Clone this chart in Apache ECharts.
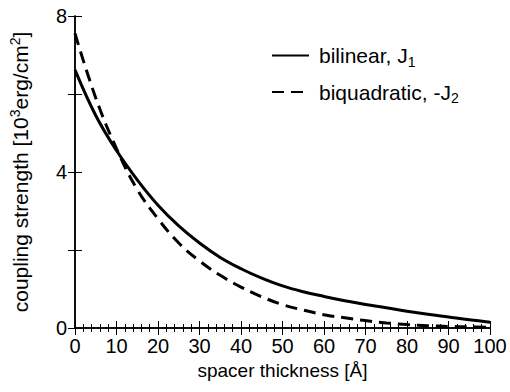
<!DOCTYPE html>
<html>
<head>
<meta charset="utf-8">
<script src="https://cdn.jsdelivr.net/npm/echarts@6/dist/echarts.min.js"></script>
<style>
  html, body { margin: 0; padding: 0; background: #fff; }
  #chart { width: 510px; height: 392px; }
</style>
</head>
<body>
<div id="chart"></div>
<script>
const thickness = [0, 5, 10, 15, 20, 25, 30, 35, 40, 45, 50, 55, 60, 65, 70, 75, 80, 85, 90, 95, 100]
const bilinear = [6.62, 5.45, 4.55, 3.8, 3.15, 2.62, 2.18, 1.81, 1.52, 1.28, 1.08, 0.93, 0.81, 0.7, 0.6, 0.52, 0.43, 0.35, 0.28, 0.21, 0.15]
const biquadratic = [7.55, 5.9, 4.6, 3.55, 2.8, 2.18, 1.72, 1.35, 1.05, 0.8, 0.6, 0.46, 0.34, 0.26, 0.19, 0.13, 0.09, 0.06, 0.04, 0.03, 0.02]
const yLabels = [0, 4, 8]

const font = "'Liberation Sans', Arial, sans-serif"

const pairs = (xs, ys) => xs.map((x, i) => [x, ys[i]])

const chart = echarts.init(document.getElementById('chart'), null, { renderer: 'svg' })

const tickCommon = {
  axisLine: { show: true, lineStyle: { color: '#000', width: 1.5 } },
  splitLine: { show: false }
}

chart.setOption({
  animation: false,
  textStyle: { fontFamily: font, color: '#000' },
  grid: { left: 74, right: 20, top: 16, bottom: 64 },
  legend: {
    orient: 'vertical',
    left: 266,
    top: 40,
    itemWidth: 37,
    itemHeight: 14,
    itemGap: 13,
    itemStyle: { opacity: 0 },
    textStyle: {
      fontFamily: font,
      fontSize: 21,
      color: '#000',
      rich: {
        p: { width: 5 },
        n: { fontFamily: font, fontSize: 21, color: '#000' },
        s: { fontFamily: font, fontSize: 14, color: '#000', padding: [12, 0, 0, 0] }
      }
    },
    formatter: (name) => name === 'bilinear' ? '{p|}{n|bilinear, J}{s|1}' : '{p|}{n|biquadratic, -J}{s|2}',
    data: ['bilinear', 'biquadratic']
  },
  xAxis: [
    {
      type: 'value',
      min: 0,
      max: 100,
      interval: 10,
      ...tickCommon,
      axisTick: { inside: true, length: 7, lineStyle: { color: '#000', width: 1 } },
      minorTick: { show: true, splitNumber: 5, length: 4, lineStyle: { color: '#000', width: 1 } },
      axisLabel: { fontSize: 20, color: '#000', margin: 8, fontFamily: font },
      name: 'spacer thickness [Å]',
      nameLocation: 'middle',
      nameGap: 32,
      nameTextStyle: { fontSize: 19, color: '#000', fontFamily: font }
    },
    {
      type: 'value',
      position: 'top',
      min: 0,
      max: 100,
      interval: 10,
      ...tickCommon,
      axisTick: { inside: true, length: 7, lineStyle: { color: '#000', width: 1 } },
      minorTick: { show: true, splitNumber: 5, length: 4, lineStyle: { color: '#000', width: 1 } },
      axisLabel: { show: false }
    }
  ],
  yAxis: [
    {
      type: 'value',
      min: 0,
      max: 8,
      interval: 2,
      ...tickCommon,
      axisTick: { inside: true, length: 7, lineStyle: { color: '#000', width: 1 } },
      axisLabel: {
        fontSize: 20,
        color: '#000',
        margin: 8,
        fontFamily: font,
        formatter: (v) => yLabels.includes(v) ? String(v) : ''
      },
      name: '{n|coupling strength [10}{s|3}{n|erg/cm}{s|2}{n|]}',
      nameLocation: 'middle',
      nameGap: 43,
      nameTextStyle: {
        fontSize: 21,
        color: '#000',
        fontFamily: font,
        rich: {
          n: { fontSize: 21, color: '#000', fontFamily: font },
          s: { fontSize: 14, color: '#000', fontFamily: font, padding: [0, 0, 10, 0] }
        }
      }
    },
    {
      type: 'value',
      position: 'right',
      min: 0,
      max: 8,
      interval: 2,
      ...tickCommon,
      axisTick: { inside: true, length: 7, lineStyle: { color: '#000', width: 1 } },
      axisLabel: { show: false }
    }
  ],
  series: [
    {
      name: 'bilinear',
      type: 'line',
      smooth: 0.4,
      symbol: 'none',
      data: pairs(thickness, bilinear),
      lineStyle: { color: '#000', width: 3 },
      itemStyle: { color: '#000' }
    },
    {
      name: 'biquadratic',
      type: 'line',
      smooth: 0.4,
      symbol: 'none',
      data: pairs(thickness, biquadratic),
      lineStyle: { color: '#000', width: 3, type: [12, 7] },
      itemStyle: { color: '#000' }
    }
  ]
})
</script>
</body>
</html>
